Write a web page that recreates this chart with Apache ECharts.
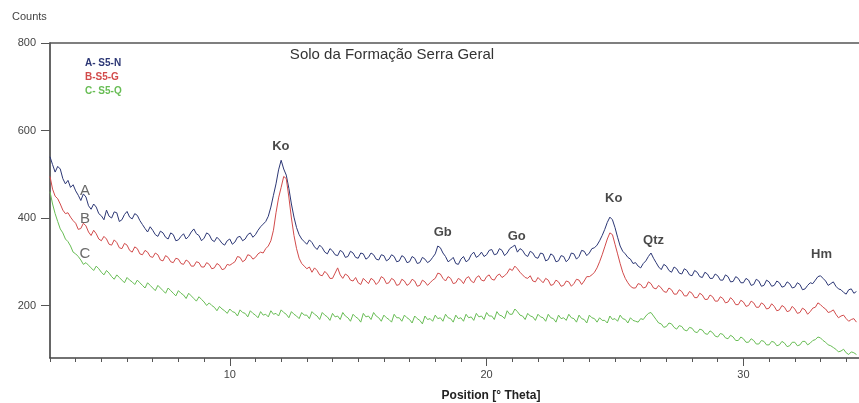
<!DOCTYPE html>
<html>
<head>
<meta charset="utf-8">
<script src="https://cdn.jsdelivr.net/npm/echarts@6/dist/echarts.min.js"></script>
<style>html,body{margin:0;padding:0;background:#fff}#c{width:859px;height:403px}</style>
</head>
<body>
<div id="c"></div>
<script>
// scan grid (2θ start and step, degrees)
const thetaStart = 3.0;
const thetaStep = 0.1;

const seriesNames = ['A- S5-N', 'B-S5-G', 'C- S5-Q'];

const countsA = [
  540,522,505,518,512,490,478,486,470,476,
  462,452,440,455,448,428,420,432,425,410,
  405,396,418,404,400,414,412,392,396,408,
  415,402,398,410,406,394,385,376,368,380,
  372,362,358,370,366,356,352,366,362,348,
  350,358,364,352,358,368,375,364,360,348,
  354,366,362,350,346,356,350,342,338,348,
  352,340,345,356,358,348,352,362,366,356,
  362,372,380,386,392,404,425,452,478,510,
  532,512,498,468,432,402,378,362,352,346,
  340,350,344,334,328,338,332,322,318,330,
  325,316,314,326,322,310,312,324,320,310,
  308,320,318,306,310,320,316,306,304,316,
  314,302,306,316,312,300,302,314,310,298,
  300,312,308,296,298,310,306,298,302,310,
  318,336,332,320,312,300,304,310,296,294,
  306,312,300,304,316,322,310,314,322,312,
  316,326,328,316,318,330,326,314,320,330,
  334,338,322,330,326,316,312,324,320,310,
  308,320,318,302,305,318,314,300,302,314,
  312,300,306,320,318,306,312,326,324,314,
  320,330,332,338,348,360,374,390,402,396,
  378,356,336,324,318,310,306,296,298,290,
  286,296,302,312,320,308,298,288,282,294,
  290,280,276,288,284,274,272,284,280,270,
  268,280,276,266,264,276,272,262,262,272,
  268,258,258,270,266,254,255,266,262,252,
  252,262,258,246,248,260,256,244,246,258,
  254,244,246,256,252,242,244,254,250,240,
  242,252,248,236,238,246,252,250,258,266,
  268,262,256,246,250,254,244,238,236,230,
  226,236,238,228,232
];

const countsB = [
  495,466,450,444,432,418,410,412,402,394,
  388,374,376,388,382,368,360,372,364,352,
  348,358,352,340,338,350,344,332,330,342,
  338,326,322,334,330,318,316,326,322,312,
  310,320,316,304,302,314,310,300,298,308,
  306,296,294,304,300,290,290,300,298,288,
  288,298,294,284,286,296,292,282,284,294,
  292,296,300,312,310,300,304,316,314,306,
  310,318,322,320,330,336,348,372,412,446,
  470,495,490,448,400,360,330,308,296,290,
  284,288,276,286,280,270,268,278,272,262,
  262,274,286,270,262,272,268,258,256,264,
  252,248,262,256,250,262,258,248,254,266,
  262,250,252,262,258,246,248,260,256,246,
  250,260,256,244,246,258,254,246,252,258,
  262,274,272,262,256,266,262,250,252,262,
  258,250,262,266,256,252,264,268,258,256,
  266,270,260,258,268,272,264,268,274,284,
  280,290,284,276,270,264,262,268,256,254,
  264,258,252,262,258,246,248,258,254,244,
  246,256,254,244,250,260,258,248,256,266,
  266,270,276,286,300,316,334,352,366,362,
  340,318,296,276,262,252,244,240,240,250,
  248,240,242,254,250,240,238,246,240,232,
  230,240,236,226,226,236,232,222,222,232,
  228,218,218,228,224,214,214,224,220,210,
  210,220,216,206,208,218,212,202,202,212,
  208,198,200,210,206,196,196,206,202,192,
  194,204,198,188,190,200,196,186,188,198,
  192,182,184,194,190,180,186,194,196,206,
  202,196,192,184,186,190,180,172,176,178,
  170,164,168,170,162
];

const countsC = [
  460,432,410,392,375,366,352,346,336,322,
  318,312,304,294,298,292,286,280,290,284,
  276,270,280,274,266,260,270,264,258,252,
  264,258,254,248,258,252,246,240,252,246,
  240,234,246,240,234,228,240,234,228,222,
  234,228,224,216,228,222,216,210,220,214,
  208,200,206,200,196,188,198,192,188,182,
  192,186,184,176,190,184,182,174,188,182,
  178,172,186,178,180,174,188,180,182,176,
  190,184,180,172,186,180,176,170,184,178,
  178,170,186,180,176,168,184,178,174,166,
  182,174,176,168,184,176,172,164,180,174,
  170,162,182,174,176,168,184,176,172,164,
  178,172,168,162,180,172,172,164,178,172,
  168,160,176,170,166,158,176,168,170,164,
  178,170,172,164,180,172,170,162,178,170,
  172,164,180,172,174,166,182,174,176,168,
  184,176,176,168,186,178,176,170,188,180,
  180,192,186,178,176,168,182,176,174,166,
  180,174,172,164,180,172,170,162,178,170,
  172,166,180,172,170,162,178,170,168,160,
  178,172,170,162,172,166,166,160,176,168,
  170,164,178,170,168,160,172,166,164,162,
  170,168,176,182,184,176,168,160,158,150,
  152,160,158,150,146,154,152,144,142,150,
  148,140,138,146,144,136,134,142,138,130,
  128,136,134,126,124,132,128,120,120,128,
  124,116,116,124,120,112,112,120,118,110,
  110,118,116,108,110,118,114,106,108,116,
  116,108,110,118,118,110,114,120,122,128,
  126,120,116,110,108,104,100,94,96,100,
  92,88,94,92,88
];

// tick labels
const xMajorTicks = [10, 20, 30];
const xMinorTicks = [3,4,5,6,7,8,9,10,11,12,13,14,15,16,17,18,19,20,21,22,23,24,25,26,27,28,29,30,31,32,33,34];
const yTicks = [200, 400, 600, 800];

// curve letters (data coords)
const curveLetters = ['A', 'B', 'C'];
const curveLetterX = [4.36, 4.36, 4.36];
const curveLetterY = [463, 399, 319];

// phase labels (data coords)
const peakNames = ['Ko', 'Gb', 'Go', 'Ko', 'Qtz', 'Hm'];
const peakX = [11.99, 18.29, 21.17, 24.95, 26.5, 33.04];
const peakY = [564, 367, 358, 445, 349, 317];

const colors = ['#2c3775', '#d24b4b', '#68bd55'];
const font = 'Liberation Sans, Arial, sans-serif';

function toPairs(arr) {
  return arr.map((v, i) => [+(thetaStart + i * thetaStep).toFixed(2), v]);
}

const chart = echarts.init(document.getElementById('c'), null, {renderer: 'canvas'});

const xBase = {
  type: 'value', min: 3, max: 34.5, position: 'bottom',
  splitLine: {show: false}
};

chart.setOption({
  animation: false,
  backgroundColor: '#fff',
  textStyle: {fontFamily: font},
  grid: {left: 50, right: 0, top: 43, bottom: 45, containLabel: false},
  legend: {
    orient: 'vertical', left: 80, top: 58, icon: 'none',
    itemWidth: 0, itemHeight: 0, itemGap: 3, selectedMode: false,
    padding: 0,
    textStyle: {fontSize: 10, fontWeight: 'bold', fontFamily: font, lineHeight: 11},
    data: seriesNames.map((n, i) => ({name: n, textStyle: {color: colors[i]}}))
  },
  xAxis: [
    Object.assign({}, xBase, {
      axisLine: {show: true, lineStyle: {color: '#444', width: 1.5}},
      axisTick: {show: true, length: 4, lineStyle: {color: '#555'}, customValues: xMinorTicks},
      axisLabel: {show: false}
    }),
    Object.assign({}, xBase, {
      axisLine: {show: false},
      axisTick: {show: true, length: 8, lineStyle: {color: '#555'}, customValues: xMajorTicks},
      axisLabel: {show: true, customValues: xMajorTicks, fontSize: 11, color: '#444', margin: 11, fontFamily: font}
    }),
    Object.assign({}, xBase, {
      position: 'top',
      axisLine: {show: true, lineStyle: {color: '#555', width: 1.5}},
      axisTick: {show: false},
      axisLabel: {show: false}
    })
  ],
  yAxis: {
    type: 'value', min: 80, max: 800,
    axisLine: {show: true, lineStyle: {color: '#333', width: 1.5}},
    axisTick: {show: true, length: 9, lineStyle: {color: '#555'}, customValues: yTicks},
    axisLabel: {show: true, customValues: yTicks, fontSize: 11, color: '#444', margin: 14, fontFamily: font},
    splitLine: {show: false}
  },
  graphic: [
    {type: 'text', left: 12, top: 11, style: {text: 'Counts', fontSize: 11, fill: '#444', fontFamily: font}},
    {type: 'text', x: 392, y: 55, style: {text: 'Solo da Formação Serra Geral', fontSize: 15, fill: '#333', fontFamily: font, align: 'center', verticalAlign: 'middle'}},
    {type: 'text', x: 491, y: 396, style: {text: 'Position [° Theta]', fontSize: 12, fontWeight: 'bold', fill: '#222', fontFamily: font, align: 'center', verticalAlign: 'middle'}}
  ],
  series: [
    {name: seriesNames[0], type: 'line', showSymbol: false, data: toPairs(countsA), lineStyle: {width: 1, color: colors[0]}, itemStyle: {color: colors[0]}},
    {name: seriesNames[1], type: 'line', showSymbol: false, data: toPairs(countsB), lineStyle: {width: 1, color: colors[1]}, itemStyle: {color: colors[1]}},
    {name: seriesNames[2], type: 'line', showSymbol: false, data: toPairs(countsC), lineStyle: {width: 1, color: colors[2]}, itemStyle: {color: colors[2]}},
    {
      type: 'scatter', symbolSize: 0, silent: true,
      data: curveLetters.map((t, i) => ({value: [curveLetterX[i], curveLetterY[i]], name: t})),
      label: {show: true, position: 'inside', formatter: '{b}', fontSize: 15, color: '#444', fontFamily: font}
    },
    {
      type: 'scatter', symbolSize: 0, silent: true,
      data: peakNames.map((t, i) => ({value: [peakX[i], peakY[i]], name: t})),
      label: {show: true, position: 'inside', formatter: '{b}', fontSize: 13, fontWeight: 'bold', color: '#1a1a1a', fontFamily: font}
    }
  ]
});
</script>
</body>
</html>
